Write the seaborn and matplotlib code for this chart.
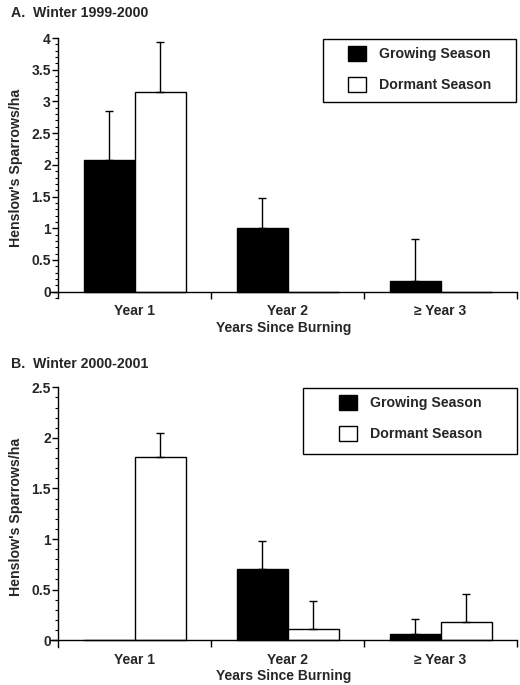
import numpy as np
import pandas as pd
import matplotlib
matplotlib.use("Agg")
import matplotlib.pyplot as plt
from matplotlib.patches import Rectangle
from matplotlib.ticker import MultipleLocator, FuncFormatter, FixedLocator
import seaborn as sns

# data
categories = ["Year 1", "Year 2", "\u2265 Year 3"]
seasons = ["Growing Season", "Dormant Season"]

a_growing = [2.07, 1.01, 0.17]
a_growing_se = [0.78, 0.46, 0.66]
a_dormant = [3.15, 0.0, 0.0]
a_dormant_se = [0.78, np.nan, np.nan]

b_growing = [0.0, 0.70, 0.06]
b_growing_se = [np.nan, 0.28, 0.15]
b_dormant = [1.81, 0.11, 0.18]
b_dormant_se = [0.24, 0.28, 0.28]

panels = [
    ("A.  Winter 1999-2000", a_growing, a_growing_se, a_dormant, a_dormant_se, 4.0),
    ("B.  Winter 2000-2001", b_growing, b_growing_se, b_dormant, b_dormant_se, 2.5),
]

sns.set_style("ticks")
plt.rcParams['font.family'] = ['Liberation Sans', 'DejaVu Sans']
plt.rcParams['font.weight'] = 'bold'

fig = plt.figure(figsize=(5.2, 6.85), dpi=100)
axes_rects = [
    [50 / 520, 1 - 298 / 685, 467 / 520, 260 / 685],
    [50 / 520, 1 - 646.5 / 685, 467 / 520, 259.2 / 685],
]
title_y = [1 - 6 / 685, 1 - 357 / 685]
# legend frame (x0, y0, w, h in axes fraction) and legend anchor
leg_boxes = [(0.5846, 0.754, 0.4134, 0.242), (0.5418, 0.743, 0.4582, 0.254)]
leg_anchor = [(0.638, 0.971), (0.619, 0.972)]

for (title, grow, grow_se, dorm, dorm_se, ymax), rect, ty, lb, la in zip(
        panels, axes_rects, title_y, leg_boxes, leg_anchor):
    ax = fig.add_axes(rect)
    df = pd.DataFrame({
        "cat": categories * 2,
        "season": [seasons[0]] * 3 + [seasons[1]] * 3,
        "value": grow + dorm,
    })
    sns.barplot(data=df, x="cat", y="value", hue="season", order=categories,
                hue_order=seasons, palette={seasons[0]: "black", seasons[1]: "white"},
                edgecolor="black", linewidth=1.0, width=0.667, errorbar=None, ax=ax)

    # one-sided error bars on top of each bar
    for cont, se in zip(ax.containers, [grow_se, dorm_se]):
        for bar, e in zip(cont, se):
            if np.isnan(e):
                continue
            xc = bar.get_x() + bar.get_width() / 2
            top = bar.get_height()
            ax.errorbar([xc], [top], yerr=[[0], [e]], fmt="none", ecolor="black",
                        elinewidth=1.0, capsize=2.7, capthick=1.0)

    ax.set_xlim(-0.555, 2.5)
    ax.set_ylim(-ymax * 0.025, ymax)
    ax.spines['left'].set_position(('data', -0.5))
    ax.spines['bottom'].set_position(('data', 0))
    ax.spines['top'].set_visible(False)
    ax.spines['right'].set_visible(False)
    for s in ['left', 'bottom']:
        ax.spines[s].set_linewidth(1.0)
        ax.spines[s].set_color("black")

    ax.yaxis.set_major_locator(MultipleLocator(0.5))
    ax.yaxis.set_minor_locator(MultipleLocator(0.1))
    ax.yaxis.set_major_formatter(FuncFormatter(lambda v, p: f"{v:g}"))
    ax.tick_params(axis='y', which='major', length=4, width=1, labelsize=10, pad=1.5, color="black")
    ax.tick_params(axis='y', which='minor', length=2.5, width=0.8, color="black")

    ax.xaxis.set_major_locator(FixedLocator([0.5, 1.5, 2.5]))
    ax.xaxis.set_major_formatter(FuncFormatter(lambda v, p: ""))
    ax.xaxis.set_minor_locator(FixedLocator([0, 1, 2]))
    ax.set_xticklabels(categories, minor=True)
    ax.tick_params(axis='x', which='major', length=5, width=1, color="black")
    ax.tick_params(axis='x', which='minor', length=0, labelsize=10, pad=9)

    ax.set_xlabel("Years Since Burning", fontsize=10, fontweight="bold", labelpad=2)
    ax.set_ylabel("Henslow's Sparrows/ha", fontsize=10.2, fontweight="bold", labelpad=6)
    for lab in ax.get_xticklabels(minor=True) + ax.get_yticklabels():
        lab.set_fontweight("bold")

    ax.add_patch(Rectangle((lb[0], lb[1]), lb[2], lb[3], transform=ax.transAxes,
                           facecolor="white", edgecolor="black", linewidth=1.0,
                           zorder=4, clip_on=False))
    leg = ax.legend(loc="upper left", bbox_to_anchor=la, frameon=False, fontsize=10.2,
                    handlelength=1.27, handleheight=1.27, handletextpad=0.92,
                    labelspacing=1.12, borderpad=0, borderaxespad=0)
    leg.set_zorder(5)
    for h in leg.legend_handles:
        h.set_edgecolor("black")
    for t in leg.get_texts():
        t.set_fontweight("bold")

    fig.text(0.022, ty, title, fontsize=10.2, fontweight="bold", va="top", ha="left")

fig.savefig("out.png", dpi=100)
